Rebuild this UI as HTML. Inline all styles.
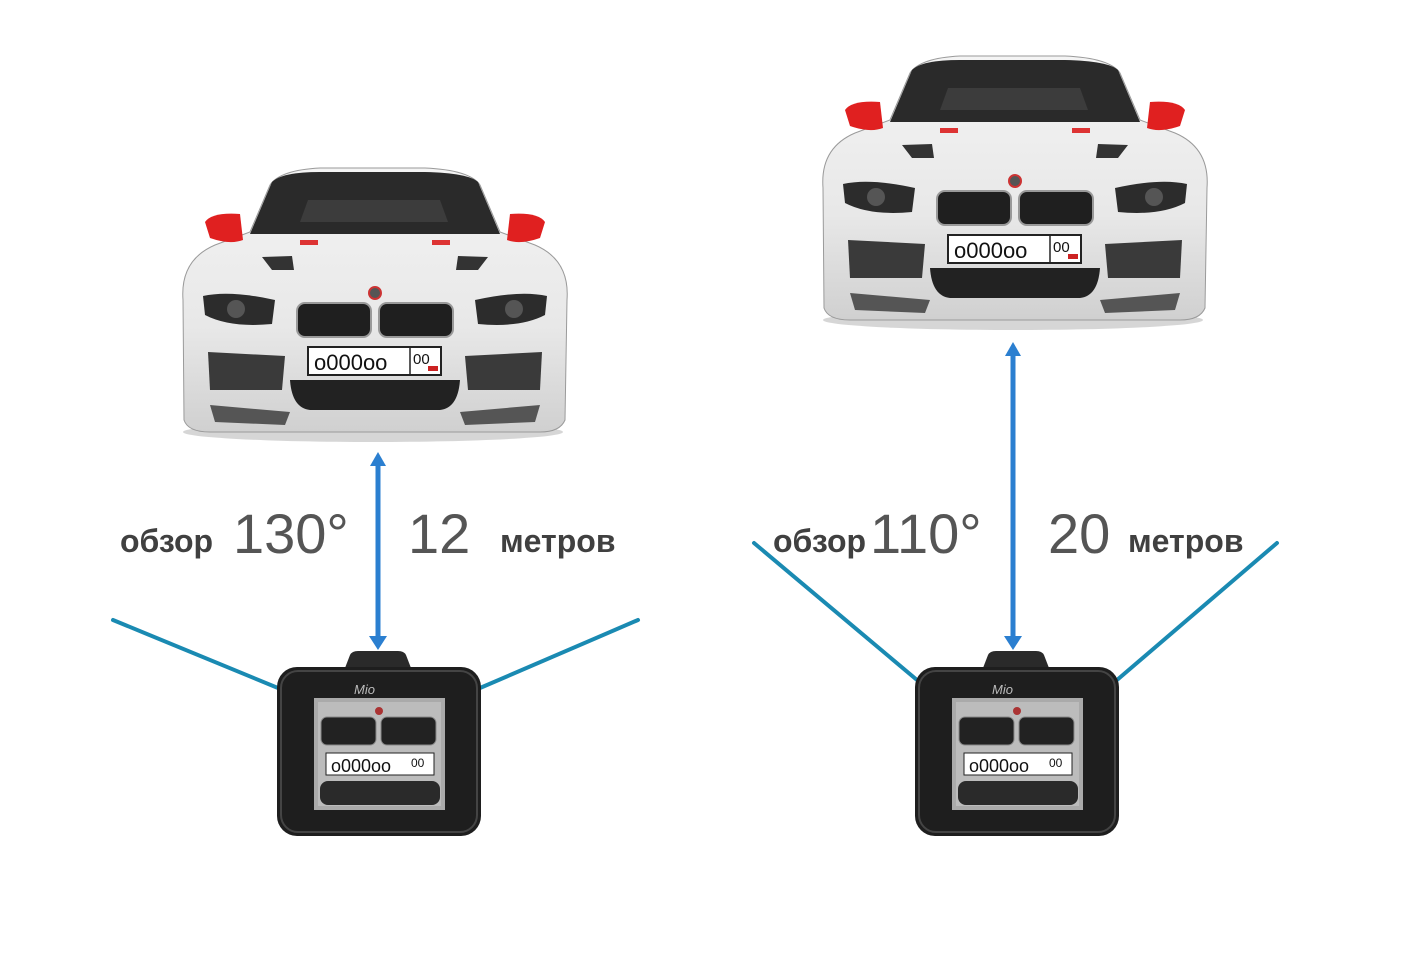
<!DOCTYPE html>
<html><head><meta charset="utf-8"><style>
html,body{margin:0;padding:0;background:#fff;}
svg{display:block}
</style></head><body>
<svg width="1417" height="959" viewBox="0 0 1417 959" xmlns="http://www.w3.org/2000/svg">
<defs>
<linearGradient id="bd" x1="0" y1="0" x2="0" y2="1">
<stop offset="0" stop-color="#f4f4f4"/><stop offset="0.6" stop-color="#e8e8e8"/><stop offset="1" stop-color="#d0d0d0"/>
</linearGradient>
<g id="car">
<ellipse cx="373" cy="432" rx="190" ry="10" fill="#bbb" opacity="0.6"/>
<path d="M183,300 Q180,260 215,245 L250,232 L270,185 Q280,170 320,168 L425,168 Q470,170 480,185 L500,232 L535,245 Q570,260 567,300 L565,420 Q560,432 540,432 L210,432 Q188,432 184,420 Z" fill="url(#bd)" stroke="#9a9a9a" stroke-width="1"/>
<path d="M250,234 L272,182 Q282,172 320,172 L425,172 Q468,173 478,182 L500,234 Z" fill="#2a2a2a"/>
<path d="M300,222 L308,200 L440,200 L448,222 Z" fill="#3c3c3c"/>
<path d="M205,222 Q212,212 240,214 L243,240 Q230,245 210,238 Z" fill="#e02020"/>
<path d="M545,222 Q538,212 510,214 L507,240 Q520,245 540,238 Z" fill="#e02020"/>
<rect x="300" y="240" width="18" height="5" fill="#d33"/><rect x="432" y="240" width="18" height="5" fill="#d33"/>
<path d="M262,257 L292,256 L294,270 L272,270 Z" fill="#333"/>
<path d="M488,257 L458,256 L456,270 L478,270 Z" fill="#333"/>
<path d="M203,296 Q230,290 275,300 L272,324 Q230,328 205,315 Z" fill="#2c2c2c"/>
<path d="M547,296 Q520,290 475,300 L478,324 Q520,328 545,315 Z" fill="#2c2c2c"/>
<circle cx="236" cy="309" r="9" fill="#555"/><circle cx="514" cy="309" r="9" fill="#555"/>
<circle cx="375" cy="293" r="6" fill="#555" stroke="#c33" stroke-width="2"/>
<rect x="297" y="303" width="74" height="34" rx="8" fill="#1f1f1f" stroke="#999" stroke-width="2"/>
<rect x="379" y="303" width="74" height="34" rx="8" fill="#1f1f1f" stroke="#999" stroke-width="2"/>
<rect x="308" y="347" width="133" height="28" fill="#fff" stroke="#222" stroke-width="2"/>
<line x1="410" y1="347" x2="410" y2="375" stroke="#222" stroke-width="1.5"/>
<text x="314" y="370" font-family="Liberation Sans, sans-serif" font-size="22" fill="#111">o000oo</text>
<text x="413" y="364" font-family="Liberation Sans, sans-serif" font-size="15" fill="#111">00</text>
<rect x="428" y="366" width="10" height="5" fill="#c22"/>
<path d="M208,352 L285,356 L282,390 L210,390 Z" fill="#3a3a3a"/>
<path d="M542,352 L465,356 L468,390 L540,390 Z" fill="#3a3a3a"/>
<path d="M290,380 L460,380 Q458,408 440,410 L310,410 Q292,408 290,380 Z" fill="#222"/>
<path d="M210,405 L290,412 L285,425 L215,422 Z" fill="#555"/>
<path d="M540,405 L460,412 L465,425 L535,422 Z" fill="#555"/>
</g>
<g id="cam">
<path d="M345,668 L350,655 Q352,651 358,651 L398,651 Q404,651 406,655 L411,668 Z" fill="#2a2a2a"/>
<rect x="277" y="667" width="204" height="169" rx="20" fill="#1e1e1e"/>
<rect x="281" y="671" width="196" height="161" rx="17" fill="none" stroke="#444" stroke-width="2"/>
<text x="354" y="694" font-family="Liberation Sans, sans-serif" font-size="13" font-style="italic" fill="#bbb">Mio</text>
<rect x="314" y="698" width="131" height="112" fill="#aaa"/>
<rect x="318" y="702" width="123" height="104" fill="#bcbcbc"/>
<circle cx="379" cy="711" r="4" fill="#a33"/>
<rect x="321" y="717" width="55" height="28" rx="6" fill="#222" stroke="#888"/>
<rect x="381" y="717" width="55" height="28" rx="6" fill="#222" stroke="#888"/>
<rect x="326" y="753" width="108" height="22" fill="#fff" stroke="#222"/>
<text x="331" y="772" font-family="Liberation Sans, sans-serif" font-size="18" fill="#111">o000oo</text>
<text x="411" y="767" font-family="Liberation Sans, sans-serif" font-size="12" fill="#111">00</text>
<rect x="320" y="781" width="120" height="24" rx="8" fill="#2a2a2a"/>
</g>
</defs>

<use href="#car"/>
<use href="#car" transform="translate(640,-112)"/>

<g stroke="#1a8ab2" stroke-width="4" stroke-linecap="round">
<line x1="113" y1="620" x2="278" y2="688"/>
<line x1="480" y1="688" x2="638" y2="620"/>
<line x1="754" y1="543" x2="917" y2="680"/>
<line x1="1117" y1="680" x2="1277" y2="543"/>
</g>

<g fill="#2b7fd0" stroke="#2b7fd0">
<line x1="378" y1="462" x2="378" y2="640" stroke-width="5"/>
<path d="M370,466 L378,452 L386,466 Z" stroke="none"/>
<path d="M369,636 L378,650 L387,636 Z" stroke="none"/>
<line x1="1013" y1="352" x2="1013" y2="640" stroke-width="5"/>
<path d="M1005,356 L1013,342 L1021,356 Z" stroke="none"/>
<path d="M1004,636 L1013,650 L1022,636 Z" stroke="none"/>
</g>

<use href="#cam"/>
<use href="#cam" transform="translate(638,0)"/>

<g font-family="Liberation Sans, sans-serif" fill="#404040">
<text x="120" y="552" font-size="32" font-weight="bold">обзор</text>
<text x="233" y="553" font-size="56" fill="#555">130°</text>
<text x="408" y="553" font-size="56" fill="#555">12</text>
<text x="500" y="552" font-size="32" font-weight="bold">метров</text>
<text x="773" y="552" font-size="32" font-weight="bold">обзор</text>
<text x="870" y="553" font-size="56" fill="#555">110°</text>
<text x="1048" y="553" font-size="56" fill="#555">20</text>
<text x="1128" y="552" font-size="32" font-weight="bold">метров</text>
</g>
</svg>
</body></html>
